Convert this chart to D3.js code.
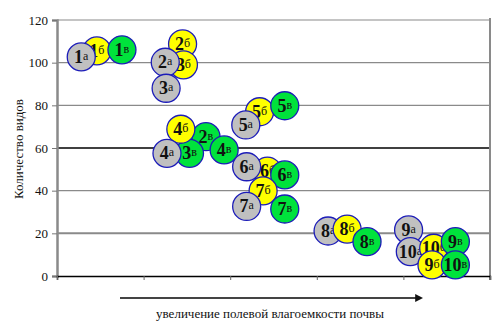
<!DOCTYPE html>
<html>
<head>
<meta charset="utf-8">
<script src="https://cdn.jsdelivr.net/npm/d3@7"></script>
<style>
  body { margin: 0; background: #fff; }
  svg text { font-family: "Times New Roman", "Liberation Serif", serif; }
</style>
</head>
<body>
<svg width="502" height="329"></svg>
<script>
// bubble data, listed in drawing order (later ones sit on top)
var nums   = ["1","1","1", "2","3","2","3", "5","5","5", "2","3","4","4","4", "6","6","6","7","7","7", "8","8","8", "9","10","10","9","9","10"];
var kinds  = ["б","в","а", "б","б","а","а", "б","в","а", "в","в","б","в","а", "б","а","в","б","а","в", "а","б","в", "а","а","б","б","в","в"];
var xVals  = [0.46,0.75,0.28, 1.45,1.46,1.25,1.26, 2.34,2.63,2.18, 1.72,1.53,1.43,1.93,1.27, 2.43,2.19,2.63,2.38,2.19,2.63, 3.13,3.35,3.58, 4.06,4.08,4.35,4.33,4.60,4.60];
var yVals  = [105.5,106,102.7, 108.8,99,100.2,88, 77,79.8,70.8, 65.3,57.5,68.8,59.1,57.5, 49.2,51.2,47.4,39.9,32.6,31.4, 21.1,22,16.1, 21.6,11.4,13,5.2,16.1,5.2];

var yTicks = [0, 20, 40, 60, 80, 100, 120];
var xTicks = [0, 1, 2, 3, 4, 5];
var kindColor = { "а": "#c0c0c0", "б": "#ffff00", "в": "#00e23c" };

var svg = d3.select("svg");

var x = d3.scaleLinear().domain([0, 5]).range([57, 490]);
var y = d3.scaleLinear().domain([0, 120]).range([276, 20]);

// grid lines (some darker like in the original)
svg.append("g").selectAll("line")
  .data(yTicks.filter(function(d) { return d > 0; }))
  .enter().append("line")
    .attr("x1", x(0)).attr("x2", x(5))
    .attr("y1", function(d) { return y(d); })
    .attr("y2", function(d) { return y(d); })
    .attr("stroke", function(d) { return d == 60 ? "#000" : "#8a8a8a"; })
    .attr("stroke-width", function(d) { return d == 20 ? 2 : (d == 60 ? 1.5 : 1.2); });

// right border
svg.append("line")
  .attr("x1", x(5)).attr("x2", x(5))
  .attr("y1", y(120) - 2).attr("y2", y(0) + 4)
  .attr("stroke", "#8a8a8a").attr("stroke-width", 2);

// y axis
var yAxis = svg.append("g")
  .attr("transform", "translate(" + x(0) + ",0)")
  .call(d3.axisLeft(y).tickValues(yTicks).tickSize(5).tickPadding(4));
yAxis.attr("font-family", null);
yAxis.select(".domain").attr("stroke", "#8a8a8a").attr("stroke-width", 2.5);
yAxis.selectAll(".tick line").attr("stroke", "#777");
yAxis.selectAll(".tick text")
  .attr("font-size", 13).attr("fill", "#111");

// x axis: only tick marks
var xAxis = svg.append("g")
  .attr("transform", "translate(0," + y(0) + ")")
  .call(d3.axisBottom(x).tickValues(xTicks).tickSize(4).tickFormat(""));
xAxis.select(".domain").attr("stroke", "#000").attr("stroke-width", 1.5);
xAxis.selectAll(".tick line").attr("stroke", "#666");

// axis titles
svg.append("text")
  .attr("transform", "translate(23," + (y(60) + 1) + ") rotate(-90)")
  .attr("text-anchor", "middle")
  .attr("font-size", 13).attr("fill", "#111")
  .text("Количество видов");

svg.append("text")
  .attr("x", 270).attr("y", 318)
  .attr("text-anchor", "middle")
  .attr("font-size", 13).attr("fill", "#111")
  .text("увеличение полевой влагоемкости почвы");

// arrow
svg.append("defs").append("marker")
  .attr("id", "arr").attr("viewBox", "0 0 10 10")
  .attr("refX", 1).attr("refY", 5)
  .attr("markerWidth", 4).attr("markerHeight", 4)
  .attr("orient", "auto")
  .append("path").attr("d", "M0,0L10,5L0,10Z").attr("fill", "#111");
svg.append("line")
  .attr("x1", 120).attr("x2", 416)
  .attr("y1", 298).attr("y2", 298)
  .attr("stroke", "#444").attr("stroke-width", 2)
  .attr("marker-end", "url(#arr)");

// bubbles
var pts = d3.range(nums.length).map(function(i) {
  return { n: nums[i], k: kinds[i], x: xVals[i], y: yVals[i] };
});

var b = svg.append("g").selectAll("g")
  .data(pts)
  .enter().append("g")
    .attr("transform", function(d) { return "translate(" + x(d.x) + "," + y(d.y) + ")"; });

b.append("circle")
  .attr("r", 14)
  .attr("fill", function(d) { return kindColor[d.k]; })
  .attr("stroke", "#1c1cb8")
  .attr("stroke-width", 1.3);

var t = b.append("text")
  .attr("text-anchor", "middle")
  .attr("y", 6)
  .attr("fill", "#111");
t.append("tspan")
  .attr("font-size", 18).attr("font-weight", "bold")
  .text(function(d) { return d.n; });
t.append("tspan")
  .attr("font-size", 12).attr("dy", -3)
  .text(function(d) { return d.k; });
</script>
</body>
</html>
